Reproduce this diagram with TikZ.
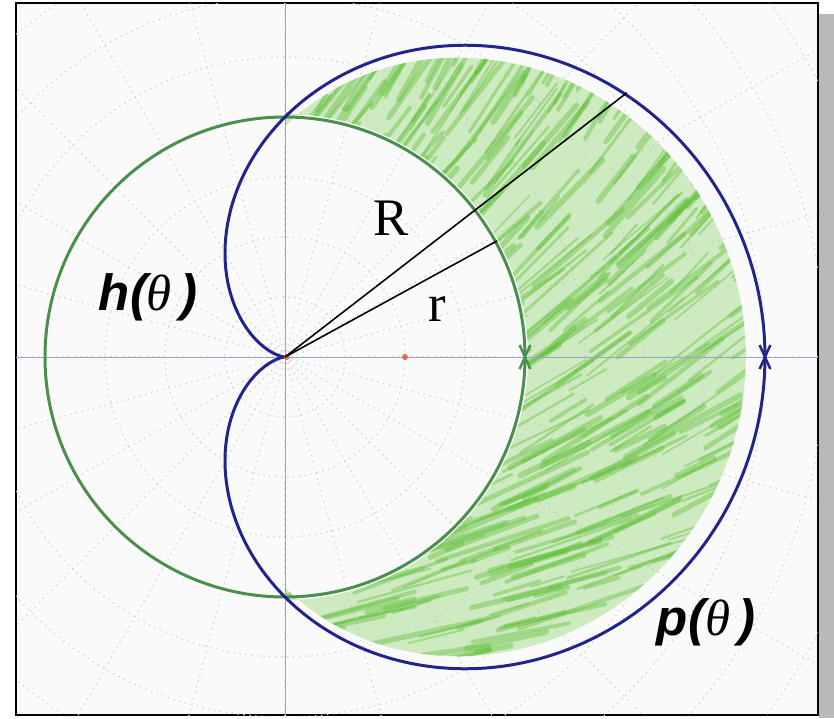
\documentclass[tikz,border=0pt]{standalone}
\usepackage{fontspec}
\setmainfont{Liberation Serif}
\setsansfont{Liberation Sans}
\usetikzlibrary{arrows.meta,calc}
\definecolor{CircleGreen}{HTML}{4A8F4E}
\definecolor{Navy}{HTML}{23238C}
\definecolor{Crayon}{HTML}{62C03A}
\definecolor{CrayonLight}{HTML}{A4DC8A}
\definecolor{Axis}{HTML}{A0A0D0}
\definecolor{Grid}{HTML}{D2D2D2}
\definecolor{Paper}{HTML}{FAFAFA}
\definecolor{Shadow}{HTML}{B9B9B9}
\definecolor{Dot}{HTML}{D8705A}
\newcommand{\fnlabel}[1]{{\sffamily\bfseries\itshape #1(}{\rmfamily\itshape θ}\,{\sffamily\bfseries\itshape )}}

\begin{document}
\begin{tikzpicture}[x=1.2cm,y=1.2cm,
    curve/.style={line width=1.7pt},
    gridline/.style={Grid,dash pattern=on 0.8pt off 2.6pt,line width=0.7pt},
    xmark/.style={line width=1.4pt},
    biglab/.style={font=\fontsize{30}{32}\selectfont,inner sep=0pt},
    fnlab/.style={font=\fontsize{29}{31}\selectfont,inner sep=0pt}]
  \useasboundingbox (-4.75,-6.017) rectangle (9.15,5.95);
  \fill[Shadow] (8.9,-6.017) rectangle (9.15,5.72);
  \draw[fill=Paper,line width=1.1pt] (-4.483,-5.967) rectangle (8.883,5.9);
  % polar grid
  \begin{scope}
    \clip (-4.483,-5.967) rectangle (8.883,5.9);
    \foreach \k in {1,...,11} \draw[gridline] (0,0) circle (\k);
    \foreach \t in {0,15,...,345} \draw[gridline] (0,0) -- (\t:11);
  \end{scope}
  % crayon shading between h and p
  \begin{scope}
    \clip plot[domain=-90:90,samples=90,smooth]
      ({0.96*4*(1+cos(\x))*cos(\x)},{0.96*4*(1+cos(\x))*sin(\x)})
      -- (0,4.05) arc[start angle=90,end angle=-90,radius=4.05] -- cycle;
    \fill[CrayonLight,opacity=0.5] (0,-6) rectangle (8,6);
    \pgfmathsetseed{11}
    \foreach \i in {1,...,700}{
      \pgfmathsetmacro\sx{rnd*8.5-0.5}
      \pgfmathsetmacro\sy{rnd*12-6}
      \pgfmathsetmacro\len{0.5+rnd*1.8}
      \pgfmathsetmacro\ang{32+5*\sy+rnd*10}
      \pgfmathsetmacro\lw{0.8+rnd*2.6}
      \draw[Crayon,line width=\lw pt,opacity=0.42,line cap=round]
        (\sx,\sy) -- ++(\ang:\len);
    }
  \end{scope}
  % axes
  \draw[Axis,line width=0.5pt] (-4.483,0) -- (8.883,0) (0,-5.967) -- (0,5.9);
  \coordinate (O) at (0,0);
  \coordinate (C) at (2,0);
  \coordinate (hx) at (4,0);
  \coordinate (px) at (8,0);
  \coordinate (Rtip) at (37.7:7.2);
  \coordinate (rtip) at (28.7:4.03);
  % curves
  \draw[CircleGreen,curve] (O) circle (4);
  \draw[Navy,curve] plot[domain=0:360,samples=181,smooth]
    ({4*(1+cos(\x))*cos(\x)},{4*(1+cos(\x))*sin(\x)});
  \draw[CircleGreen,xmark] ($(hx)+(-0.09,0.2)$) -- ($(hx)+(0.09,-0.2)$)
    ($(hx)+(0.09,0.2)$) -- ($(hx)+(-0.09,-0.2)$);
  \draw[Navy,xmark] ($(px)+(-0.09,0.2)$) -- ($(px)+(0.09,-0.2)$)
    ($(px)+(0.09,0.2)$) -- ($(px)+(-0.09,-0.2)$);
  \fill[Dot] ($(O)+(0.03,0)$) circle (0.05);
  \fill[Dot] (C) circle (0.05);
  % radii
  \draw[line width=0.9pt] (O) -- (Rtip);
  \draw[line width=0.9pt] (O) -- (rtip);
  \node[biglab] (Rlab) at (1.77,2.32) {R};
  \node[biglab] (rlab) at (2.53,0.8) {r};
  \node[fnlab] (hlab) at (-2.28,1.0) {\fnlabel{h}};
  \node[fnlab] (plab) at (7.02,-4.42) {\fnlabel{p}};
\end{tikzpicture}
\end{document}
